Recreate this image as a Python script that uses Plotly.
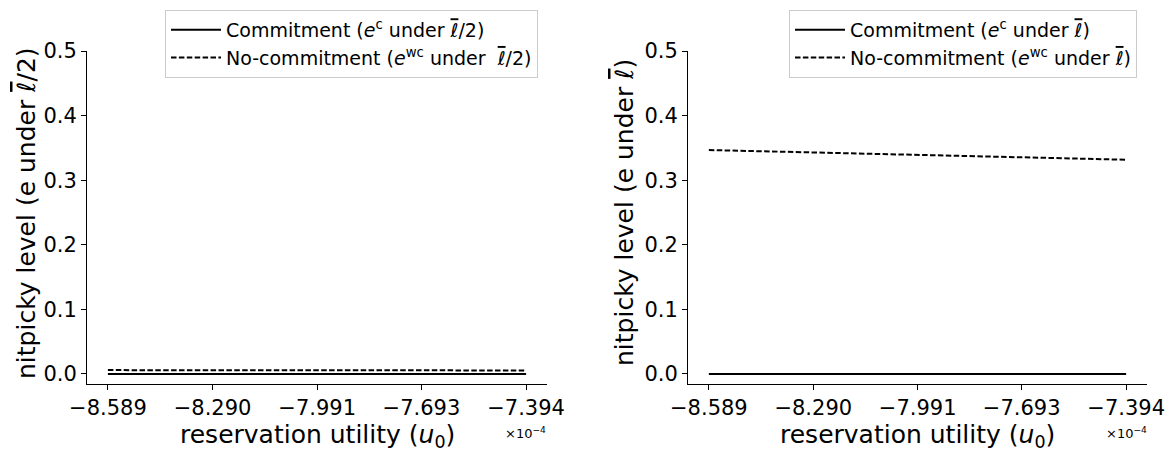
import plotly.graph_objects as go

# reservation utility (in units of 1e-4)
u0 = [-8.589, -8.290, -7.991, -7.693, -7.394]
tick_vals = [-8.589, -8.290, -7.991, -7.693, -7.394]
tick_text = ["\u22128.589", "\u22128.290", "\u22127.991", "\u22127.693", "\u22127.394"]
y_ticks = [0.0, 0.1, 0.2, 0.3, 0.4, 0.5]

# left panel (l/2)
commit_half = [0.0, 0.0, 0.0, 0.0, 0.0]
nocommit_half = [0.0060, 0.0059, 0.0058, 0.0057, 0.0055]
# right panel (l)
commit_full = [0.0, 0.0, 0.0, 0.0, 0.0]
nocommit_full = [0.3467, 0.3430, 0.3393, 0.3355, 0.3317]

LBAR = "<span style=\"text-decoration:overline\"><i>\u2113</i></span>"
FONT = "DejaVu Sans"
W, H = 1167, 453

fig = go.Figure()
dash = "5.5px,2.4px"
fig.add_trace(go.Scatter(x=u0, y=commit_half, mode="lines", line=dict(color="black", width=2),
                         name=f"Commitment (<i>e</i><sup>c</sup> under {LBAR}/2)",
                         xaxis="x", yaxis="y", legend="legend"))
fig.add_trace(go.Scatter(x=u0, y=nocommit_half, mode="lines", line=dict(color="black", width=2, dash=dash),
                         name=f"No-commitment (<i>e</i><sup>wc</sup> under  {LBAR}/2)",
                         xaxis="x", yaxis="y", legend="legend"))
fig.add_trace(go.Scatter(x=u0, y=commit_full, mode="lines", line=dict(color="black", width=2),
                         name=f"Commitment (<i>e</i><sup>c</sup> under {LBAR})",
                         xaxis="x2", yaxis="y2", legend="legend2"))
fig.add_trace(go.Scatter(x=u0, y=nocommit_full, mode="lines", line=dict(color="black", width=2, dash=dash),
                         name=f"No-commitment (<i>e</i><sup>wc</sup> under {LBAR})",
                         xaxis="x2", yaxis="y2", legend="legend2"))

xr = [-8.64875, -7.33425]
yr = [-0.0155, 0.5]
ydom = [1 - 384 / H, 1 - 51 / H]
xdom1 = [87 / W, 547 / W]
xdom2 = [688 / W, 1147 / W]

axis_common = dict(showline=True, linecolor="black", linewidth=1, ticks="outside", ticklen=5,
                   tickcolor="black", tickwidth=1, showgrid=False, zeroline=False,
                   tickfont=dict(family=FONT, size=21, color="black"), automargin=False)

legend_common = dict(yanchor="top", xanchor="right", bordercolor="#cccccc", borderwidth=1,
                     bgcolor="white", font=dict(family=FONT, size=19, color="black"),
                     tracegroupgap=0, itemwidth=50)

fig.update_layout(
    width=W, height=H, margin=dict(l=0, r=0, t=0, b=0),
    plot_bgcolor="white", paper_bgcolor="white",
    font=dict(family=FONT, color="black"),
    xaxis=dict(domain=xdom1, range=xr, tickvals=tick_vals, ticktext=tick_text, anchor="y", **axis_common),
    yaxis=dict(domain=ydom, range=yr, tickvals=y_ticks, tickformat=".1f", anchor="x", **axis_common),
    xaxis2=dict(domain=xdom2, range=xr, tickvals=tick_vals, ticktext=tick_text, anchor="y2", **axis_common),
    yaxis2=dict(domain=ydom, range=yr, tickvals=y_ticks, tickformat=".1f", anchor="x2", **axis_common),
    legend=dict(x=538 / W, y=1 - 10 / H, **legend_common),
    legend2=dict(x=1137 / W, y=1 - 10 / H, **legend_common),
    showlegend=True,
)

annos = []
for cx in [(87 + 547) / 2, (688 + 1147) / 2]:
    annos.append(dict(x=cx / W, y=1 - 436 / H, xref="paper", yref="paper", showarrow=False,
                      text="reservation utility (<i>u</i><sub>0</sub>)",
                      font=dict(family=FONT, size=25, color="black"), xanchor="center", yanchor="middle"))
for cx in [525 / W, 1126 / W]:
    annos.append(dict(x=cx, y=1 - 433 / H, xref="paper", yref="paper", showarrow=False,
                      text="\u00d710<sup>\u22124</sup>",
                      font=dict(family=FONT, size=13, color="black"), xanchor="center", yanchor="middle"))
annos.append(dict(x=27 / W, y=1 - 213 / H, xref="paper", yref="paper", showarrow=False, textangle=-90,
                  text=f"nitpicky level (e under {LBAR}/2)",
                  font=dict(family=FONT, size=25, color="black"), xanchor="center", yanchor="middle"))
annos.append(dict(x=625 / W, y=1 - 213 / H, xref="paper", yref="paper", showarrow=False, textangle=-90,
                  text=f"nitpicky level (e under {LBAR})",
                  font=dict(family=FONT, size=25, color="black"), xanchor="center", yanchor="middle"))
fig.update_layout(annotations=annos)

fig.write_html("out.html")
